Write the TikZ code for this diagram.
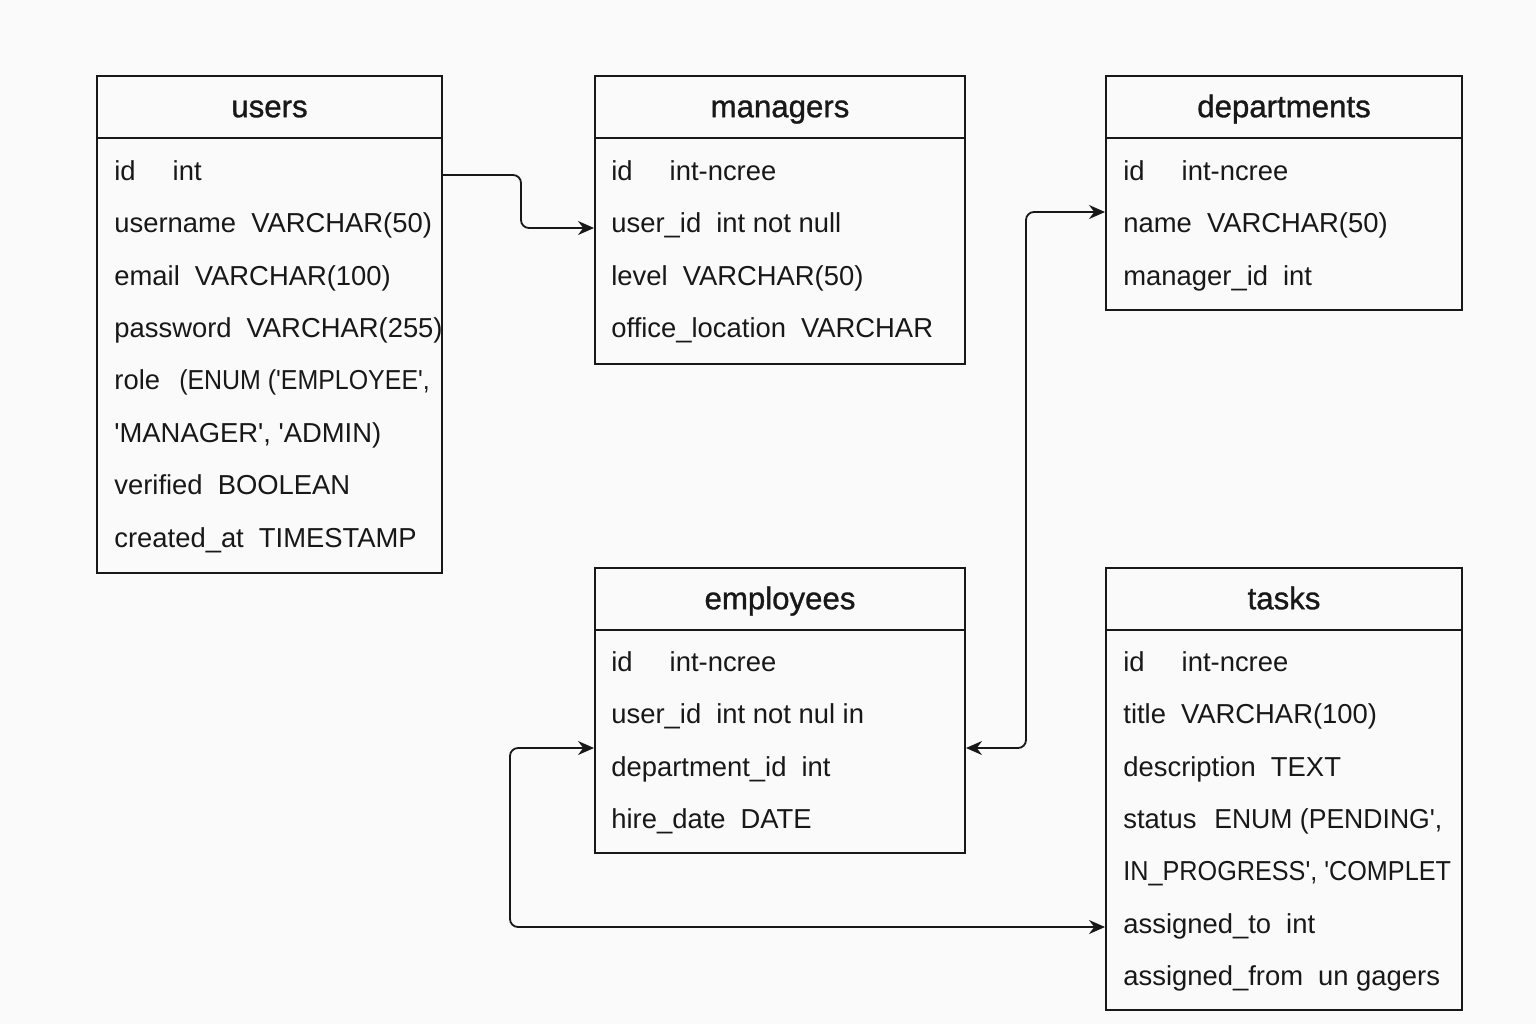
\documentclass[tikz,border=0pt]{standalone}
\usepackage{fontspec}
\setmainfont{Liberation Sans}
\newfontfamily\titlefont{Liberation Sans}[FakeBold=1]
\usepackage{tikz}
\usetikzlibrary{arrows.meta, calc}
\usepackage{xcolor}

\definecolor{bgcolor}{RGB}{250,250,250}
\definecolor{inkcolor}{RGB}{24,24,24}

\newcommand{\sq}{\textquotesingle}
\newcommand{\gap}{\hspace{0.55em}}
\newcommand{\idgap}{\hspace{1.35em}}
\newcommand{\narrow}[2]{\scalebox{#1}[1]{#2}}

\tikzset{
    tablebox/.style={draw=inkcolor, line width=1pt, anchor=north west, inner sep=0pt},
    tableline/.style={draw=inkcolor, line width=1pt},
    tabletitle/.style={inner sep=0pt, text height=0.72em, text depth=0pt, text=inkcolor, font=\titlefont\fontsize{15.6pt}{18pt}\selectfont},
    tablerow/.style={anchor=west, inner sep=0pt, text height=0.72em, text depth=0pt, text=inkcolor, font=\fontsize{13.7pt}{16pt}\selectfont},
    link/.style={draw=inkcolor, line width=0.9pt, rounded corners=4pt, >={Stealth[length=8pt, width=7pt]}}
}

\begin{document}
\begin{tikzpicture}[x=1pt, y=-1pt]

        \fill[bgcolor] (0,0) rectangle (768,512);
        \useasboundingbox (0,0) rectangle (768,512);

        % tables
        \node[tablebox, minimum width=172.5pt, minimum height=248.5pt] (users) at (48,37.5) {};
        \node[tablebox, minimum width=185pt, minimum height=144pt] (managers) at (297,37.5) {};
        \node[tablebox, minimum width=178pt, minimum height=117pt] (departments) at (552.5,37.5) {};
        \node[tablebox, minimum width=185pt, minimum height=142.5pt] (employees) at (297,283.5) {};
        \node[tablebox, minimum width=178pt, minimum height=221pt] (tasks) at (552.5,283.5) {};

        % header lines and titles
        \foreach \tbl in {users, managers, departments, employees, tasks} {
            \draw[tableline] ([yshift=-31.5pt]\tbl.north west) -- ([yshift=-31.5pt]\tbl.north east);
            \node[tabletitle] (\tbl-title) at ([yshift=-17.5pt]\tbl.north) {\tbl};
        }

        % rows
        \foreach \row [count=\i] in {id\idgap int, username\gap VARCHAR(50), email\gap VARCHAR(100),
            password\gap VARCHAR(255), {role\hspace{0.7em}\narrow{0.91}{(ENUM (\sq EMPLOYEE\sq,}},
            {\sq MANAGER\sq, \sq ADMIN)}, verified\gap BOOLEAN, created\_at\gap TIMESTAMP}
            \node[tablerow] (users-\i) at (57,{86.5+26.2*(\i-1)}) {\row};

        \foreach \row [count=\i] in {id\idgap int-ncree, user\_id\gap int not null, level\gap VARCHAR(50),
            office\_location\gap VARCHAR}
            \node[tablerow] (managers-\i) at (305.5,{86.5+26.2*(\i-1)}) {\row};

        \foreach \row [count=\i] in {id\idgap int-ncree, name\gap VARCHAR(50), manager\_id\gap int}
            \node[tablerow] (departments-\i) at (561.5,{86.5+26.2*(\i-1)}) {\row};

        \foreach \row [count=\i] in {id\idgap int-ncree, user\_id\gap int not nul in, department\_id\gap int,
            hire\_date\gap DATE}
            \node[tablerow] (employees-\i) at (305.5,{332+26.2*(\i-1)}) {\row};

        \foreach \row [count=\i] in {id\idgap int-ncree, title\gap VARCHAR(100), description\gap TEXT,
            {status\hspace{0.65em}\narrow{0.97}{ENUM (PENDING\sq,}}, {\narrow{0.92}{IN\_PROGRESS\sq, \sq COMPLET}},
            assigned\_to\gap int, assigned\_from\gap un gagers}
            \node[tablerow] (tasks-\i) at (561.5,{332+26.2*(\i-1)}) {\row};

        % bends of the connectors
        \coordinate (UA) at (260.5,87.5);
        \coordinate (UB) at (260.5,114);
        \coordinate (DA) at (513,106);
        \coordinate (DB) at (513,374);
        \coordinate (TA) at (255,374);
        \coordinate (TB) at (255,463.5);

        \draw[link, ->] (users.east |- UA) -- (UA) -- (UB) -- (managers.west |- UB);

        \draw[link, <->] (employees.east |- DB) -- (DB) -- (DA) -- (departments.west |- DA);

        \draw[link, <->] (employees.west |- TA) -- (TA) -- (TB) -- (tasks.west |- TB);

    \end{tikzpicture}
\end{document}
